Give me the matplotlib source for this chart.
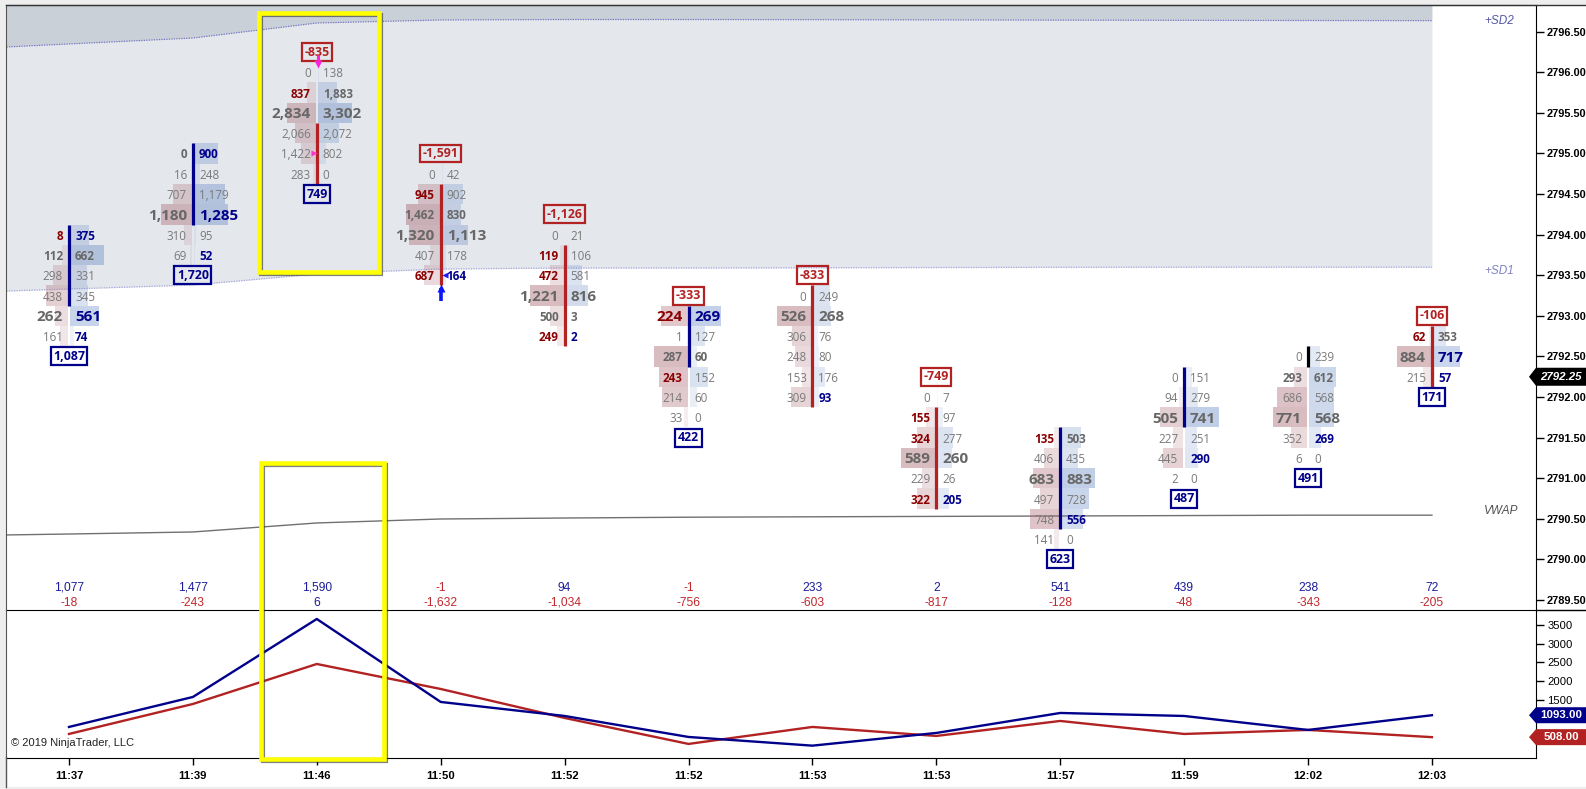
import numpy as np
import matplotlib
matplotlib.use('Agg')
import matplotlib.pyplot as plt
from matplotlib.patches import Rectangle, Polygon
from matplotlib.lines import Line2D
import matplotlib.transforms as mtransforms
from matplotlib import font_manager as fm

# ---------------- data ----------------
times = ['11:37', '11:39', '11:46', '11:50', '11:52', '11:52',
         '11:53', '11:53', '11:57', '11:59', '12:02', '12:03']
top_price = [2794.00, 2795.00, 2796.00, 2794.75, 2794.00, 2793.00,
             2793.25, 2792.00, 2791.50, 2792.25, 2792.50, 2792.75]
bid_vol = [[8, 112, 298, 438, 262, 161],
           [0, 16, 707, 1180, 310, 69],
           [0, 837, 2834, 2066, 1422, 283],
           [0, 945, 1462, 1320, 407, 687],
           [0, 119, 472, 1221, 500, 249],
           [224, 1, 287, 243, 214, 33],
           [0, 526, 306, 248, 153, 309],
           [0, 155, 324, 589, 229, 322],
           [135, 406, 683, 497, 748, 141],
           [0, 94, 505, 227, 445, 2],
           [0, 293, 686, 771, 352, 6],
           [62, 884, 215]]
ask_vol = [[375, 662, 331, 345, 561, 74],
           [900, 248, 1179, 1285, 95, 52],
           [138, 1883, 3302, 2072, 802, 0],
           [42, 902, 830, 1113, 178, 164],
           [21, 106, 581, 816, 3, 2],
           [269, 127, 60, 152, 60, 0],
           [249, 268, 76, 80, 176, 93],
           [7, 97, 277, 260, 26, 205],
           [503, 435, 883, 728, 556, 0],
           [151, 279, 741, 251, 290, 0],
           [239, 612, 568, 568, 269, 0],
           [353, 717, 57]]
# n = normal grey, b = bold grey, r = bold dark red, u = bold navy
bid_style = ['rbnnbn', 'bnnbnn', 'nrbnnn', 'nrbbnr', 'nrrbbr', 'rnbrnn',
             'nbnnnn', 'nrrbnr', 'rnbnnn', 'nnbnnn', 'nbnbnn', 'rbn']
ask_style = ['ubnnuu', 'unnunu', 'nbbnnn', 'nnbbnu', 'nnnbbu', 'unbnnn',
             'nbnnnu', 'nnnbnu', 'bnbnun', 'nnbnun', 'nbnbun', 'buu']
poc_row = [4, 3, 2, 3, 3, 0, 1, 3, 2, 2, 3, 1]
body_high = [2794.00, 2795.00, 2795.25, 2794.50, 2793.75, 2793.00,
             2793.25, 2791.75, 2791.50, 2792.25, 2792.50, 2792.75]
body_low = [2793.25, 2794.25, 2794.75, 2793.50, 2792.75, 2792.50,
            2792.00, 2790.75, 2790.50, 2791.75, 2792.50, 2792.25]
bar_dir = ['up', 'up', 'down', 'down', 'down', 'up',
           'down', 'down', 'up', 'up', 'flat', 'down']
delta_top = [None, None, -835, -1591, -1126, -333, -833, -749, None, None, None, -106]
delta_bottom = [1087, 1720, 749, None, None, 422, None, None, 623, 487, 491, 171]
sum_row1 = [1077, 1477, 1590, -1, 94, -1, 233, 2, 541, 439, 238, 72]
sum_row2 = [-18, -243, 6, -1632, -1034, -756, -603, -817, -128, -48, -343, -205]
lower_blue = [780, 1580, 3660, 1447, 1073, 513, 281, 620, 1153, 1073, 700, 1093]
lower_red = [593, 1393, 2460, 1793, 1020, 327, 780, 540, 940, 593, 700, 508]
band_x = list(range(-1, 12))
vwap = [2790.29, 2790.313, 2790.338, 2790.449, 2790.498, 2790.51, 2790.52,
        2790.525, 2790.53, 2790.535, 2790.54, 2790.545, 2790.545]
sd1 = [2793.282, 2793.331, 2793.380, 2793.516, 2793.577, 2793.589, 2793.589,
       2793.592, 2793.595, 2793.598, 2793.60, 2793.60, 2793.60]
sd2 = [2796.275, 2796.349, 2796.422, 2796.607, 2796.644, 2796.65, 2796.65,
       2796.648, 2796.645, 2796.642, 2796.64, 2796.638, 2796.636]
last_price = 2792.25
arrow_marks = [(2, 'down', '#ff22dd'), (3, 'up', '#0a14ff')]
tri_marks = [(2, 2795.00, '>', '#ff33cc'), (3, 2793.50, '<', '#1a1aff')]
highlight_bar = 2

# ---------------- style ----------------
W, H = 1586, 789
_names = {f.name for f in fm.fontManager.ttflist}
if 'Liberation Sans Narrow' in _names:
    FN = ['Liberation Sans Narrow', 'DejaVu Sans']
    NS = 1.0
else:
    FN = ['Liberation Sans', 'DejaVu Sans']
    NS = 0.88
FA = ['Liberation Sans', 'DejaVu Sans']
FO = ['Open Sans', 'DejaVu Sans']
NAVY = '#00008b'
DRED = '#8b0000'
RED = '#b22222'
style_map = {'n': ('#7a7a7a', 'normal'), 'b': ('#676767', 'bold'),
             'r': (DRED, 'bold'), 'u': (NAVY, 'bold')}

fig = plt.figure(figsize=(W / 100, H / 100), dpi=100)
fig.patch.set_facecolor('#eeeeee')
fig.add_artist(Rectangle((6 / W, 2 / H), (W - 6) / W, (H - 7) / H,
                         transform=fig.transFigure, fc='white', ec='none', zorder=-10))


def fx(px):
    return px / W


def fy(py):
    return 1 - py / H


ax = fig.add_axes([fx(6), fy(610), (1536 - 6) / W, (610 - 5) / H])
ax2 = fig.add_axes([fx(6), fy(757.5), (1536 - 6) / W, (757.5 - 610) / H])
for a in (ax, ax2):
    a.set_facecolor('none')
    a.set_xlim(-0.5085, 11.84)
ax.set_ylim(2789.377, 2796.829)
ax2.set_ylim(-35, 3900)

PX = 1 / 123.9  # one pixel in bar units

# bands
ytop = 2796.829
ax.fill_between(band_x, sd2, ytop, color='#c9d0d8', lw=0, zorder=0)
ax.fill_between(band_x, sd1, sd2, color='#e4e7ec', lw=0, zorder=0)
ax.plot(band_x, sd2, color='#7676c4', lw=0.9, ls=(0, (1, 1)), zorder=1)
ax.plot(band_x, sd1, color='#a8a8dc', lw=0.9, ls=(0, (1, 1)), zorder=1)
ax.plot(band_x, vwap, color='#707070', lw=1.0, zorder=1)

blend_main = mtransforms.blended_transform_factory(ax.transAxes, ax.transData)


def axfrac(px):
    return (px - 6) / (1536 - 6)


ax.text(axfrac(1484), sd2[-1], '+SD2', transform=blend_main, ha='left', va='center',
        fontsize=8.5, style='italic', color='#5656a8', family=FA)
ax.text(axfrac(1484), sd1[-1] - 0.05, '+SD1', transform=blend_main, ha='left', va='center',
        fontsize=8.5, style='italic', color='#8282c4', family=FA)
ax.text(axfrac(1484), vwap[-1] + 0.05, 'VWAP', transform=blend_main, ha='left', va='center',
        fontsize=8.5, style='italic', color='#505050', family=FA)

# clusters
shade_w = 34 * PX
gap = 1 * PX
toff = 6 * PX
for i in range(len(times)):
    b = bid_vol[i]
    a_ = ask_vol[i]
    vmax = max(max(b), max(a_))
    prices = [top_price[i] - 0.25 * j for j in range(len(b))]
    for j, p in enumerate(prices):
        wb = shade_w * b[j] / vmax
        wa = shade_w * a_[j] / vmax
        ax.add_patch(Rectangle((i - gap - wb, p - 0.125), wb, 0.25, fc='#a8646e',
                               alpha=0.07 + 0.36 * b[j] / vmax, ec='none', zorder=2))
        ax.add_patch(Rectangle((i + gap, p - 0.125), wa, 0.25, fc='#6e8fc8',
                               alpha=0.07 + 0.36 * a_[j] / vmax, ec='none', zorder=2))
        big = (j == poc_row[i])
        fs = 11 if big else 8.4
        cb, wtb = style_map[bid_style[i][j]]
        ca, wta = style_map[ask_style[i][j]]
        if big:
            wtb = wta = 'bold'
        ax.text(i - toff, p, f'{b[j]:,}', ha='right', va='center_baseline', fontsize=fs,
                color=cb, fontweight=wtb, family=FO, zorder=4)
        ax.text(i + toff, p, f'{a_[j]:,}', ha='left', va='center_baseline', fontsize=fs,
                color=ca, fontweight=wta, family=FO, zorder=4)
    # candle body line
    col = {'up': NAVY, 'down': RED, 'flat': 'black'}[bar_dir[i]]
    ax.plot([i, i], [body_high[i] + 0.125, body_low[i] - 0.125], color=col, lw=2.3,
            solid_capstyle='butt', zorder=3)
    # delta boxes
    if delta_top[i] is not None:
        v = delta_top[i]
        c = RED if v < 0 else NAVY
        ax.text(i, top_price[i] + 0.25, f'{v:,}', ha='center', va='center', fontsize=8.9,
                fontweight='bold', color=c, family=FO, zorder=4,
                bbox=dict(boxstyle='square,pad=0.2', fc='none', ec=c, lw=1.6))
    if delta_bottom[i] is not None:
        v = delta_bottom[i]
        c = RED if v < 0 else NAVY
        ax.text(i, prices[-1] - 0.25, f'{v:,}', ha='center', va='center', fontsize=8.9,
                fontweight='bold', color=c, family=FO, zorder=4,
                bbox=dict(boxstyle='square,pad=0.2', fc='none', ec=c, lw=1.6))

# arrows
for i, kind, c in arrow_marks:
    n = len(bid_vol[i])
    if kind == 'down':
        y0 = top_price[i] + 0.21
        y1 = top_price[i] + 0.10
        ax.plot([i + PX, i + PX], [y0, y1], color=c, lw=2.2, zorder=5, solid_capstyle='butt')
        ax.plot([i + PX], [y1], marker='v', color=c, ms=6, zorder=5, mec='none')
    else:
        lowp = top_price[i] - 0.25 * (n - 1)
        y0 = lowp - 0.32
        y1 = lowp - 0.16
        ax.plot([i, i], [y0, y1], color=c, lw=2.6, zorder=5, solid_capstyle='butt')
        ax.plot([i], [y1], marker='^', color=c, ms=6, zorder=5, mec='none')
for i, p, m, c in tri_marks:
    dx = -3 * PX if m == '>' else 4 * PX
    ax.plot([i + dx], [p], marker=m, color=c, ms=5, zorder=5, mec='none')

# summary rows
blend_xd = mtransforms.blended_transform_factory(ax.transData, ax.transAxes)
for i in range(len(times)):
    for val, yfrac in ((sum_row1[i], 0.0364), (sum_row2[i], 0.0116)):
        c = '#1c1c9a' if val >= 0 else '#c0282d'
        ax.text(i, yfrac, f'{val:,}', transform=blend_xd,
                ha='center', va='center', fontsize=9.8 * NS, color=c, family=FN, zorder=4)

# axes styling main
ax.set_xticks([])
ax.yaxis.tick_right()
yt = np.arange(2789.5, 2796.51, 0.5)
ax.set_yticks(yt)
ax.set_yticklabels([f'{v:.2f}' for v in yt])
ax.tick_params(axis='y', direction='out', length=6, width=1, pad=2, labelsize=9 * NS, colors='black')
for lab in ax.get_yticklabels():
    lab.set_family(FN)
    lab.set_fontweight('bold')
ax.spines['top'].set_color('#333333')
ax.spines['left'].set_color('#555555')
ax.spines['right'].set_color('black')
ax.spines['bottom'].set_color('black')

# lower panel
ax2.plot(range(len(times)), lower_red, color=RED, lw=1.7, zorder=3)
ax2.plot(range(len(times)), lower_blue, color=NAVY, lw=1.7, zorder=3)
ax2.yaxis.tick_right()
ax2.set_yticks([1500, 2000, 2500, 3000, 3500])
ax2.set_yticklabels(['1500', '2000', '2500', '3000', '3500'])
ax2.tick_params(axis='y', direction='out', length=6, width=1, pad=2, labelsize=9.2 * NS, colors='black')
ax2.set_xticks(range(len(times)))
ax2.set_xticklabels(times)
ax2.tick_params(axis='x', direction='out', length=5, width=1, pad=5, labelsize=9.2 * NS, colors='black')
for lab in ax2.get_yticklabels():
    lab.set_family(FN)
for lab in ax2.get_xticklabels():
    lab.set_family(FN)
    lab.set_fontweight('bold')
ax2.spines['top'].set_visible(False)
ax2.spines['left'].set_color('#555555')
ax2.spines['right'].set_color('black')
ax2.spines['bottom'].set_color('black')
ax2.text(0.0035, (756.25 - 743) * 26.67, '© 2019 NinjaTrader, LLC',
         transform=mtransforms.blended_transform_factory(ax2.transAxes, ax2.transData),
         ha='left', va='center', fontsize=8, color='#222222', family=FA)

# frame extensions
fig.add_artist(Line2D([fx(1536), 1], [fy(610), fy(610)], transform=fig.transFigure, color='black', lw=1))
fig.add_artist(Line2D([fx(6), 1], [fy(5), fy(5)], transform=fig.transFigure, color='#333333', lw=1))
fig.add_artist(Line2D([fx(6), fx(6)], [fy(757), fy(787)], transform=fig.transFigure, color='#555555', lw=1))


# value markers on the right axis
def value_tag(axis, val, text, fc, half_h, italic=False):
    base = mtransforms.blended_transform_factory(axis.transAxes, axis.transData)
    trans = fig.dpi_scale_trans + mtransforms.ScaledTranslation(1.0, val, base)
    verts = [(-0.07, 0), (0, half_h / 100), (0.52, half_h / 100), (0.52, -half_h / 100), (0, -half_h / 100)]
    fig.add_artist(Polygon(verts, closed=True, transform=trans, fc=fc, ec='none', zorder=6))
    t = mtransforms.offset_copy(base, fig=fig, x=25, y=0, units='dots')
    fig.text(1.0, val, text, transform=t, ha='center', va='center', fontsize=9.4 * NS, color='white',
             fontweight='bold', style='italic' if italic else 'normal', family=FN, zorder=7)


value_tag(ax, last_price, f'{last_price:.2f}', 'black', 9, italic=True)
value_tag(ax2, lower_blue[-1], f'{lower_blue[-1]:.2f}', NAVY, 8)
value_tag(ax2, lower_red[-1], f'{lower_red[-1]:.2f}', RED, 8)

# yellow highlight boxes around the 11:46 bar
fig.canvas.draw()


def disp(axis, x, y):
    return axis.transData.transform((x, y))


x0 = highlight_bar - 58 * PX
x1 = highlight_bar + 62 * PX
boxes = [(disp(ax, x0, 2796.73), disp(ax, x1, 2793.54)),
         (disp(ax, x0 + 2 * PX, 2791.19), disp(ax2, x1 + 5 * PX, -73))]
for (p0, p1) in boxes:
    w = p1[0] - p0[0]
    h = p0[1] - p1[1]
    fig.add_artist(Rectangle((p0[0] + 2, p1[1] - 2), w, h, transform=mtransforms.IdentityTransform(),
                             fc='none', ec='#3a3a3a', alpha=0.65, lw=3.0, zorder=8))
    fig.add_artist(Rectangle((p0[0], p1[1]), w, h, transform=mtransforms.IdentityTransform(),
                             fc='none', ec='#ffff00', lw=3.3, zorder=9))

fig.savefig('out.png', dpi=100)
